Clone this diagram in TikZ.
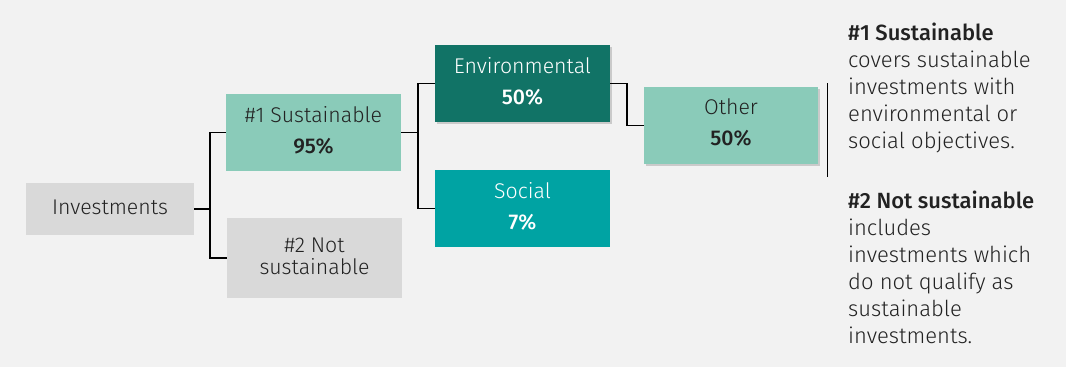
\documentclass[tikz,border=0pt]{standalone}
\usepackage{fontspec}
\setmainfont{Fira Sans Light}[BoldFont={Fira Sans Medium}]
\usetikzlibrary{shadows}
\definecolor{bg}{HTML}{F2F2F2}
\definecolor{boxgray}{HTML}{D9D9D9}
\definecolor{mint}{HTML}{8ACBB9}
\definecolor{darkteal}{HTML}{117366}
\definecolor{teal}{HTML}{00A3A3}
\definecolor{txt}{HTML}{222222}
\newcommand{\lowstrut}[1][6pt]{\rule[-#1]{0pt}{0pt}}
\tikzset{
  box/.style={rectangle, inner sep=0pt, minimum width=175pt, minimum height=77pt,
    align=center, text=txt, font=\fontsize{21.3}{22}\selectfont},
  shad/.style={drop shadow={opacity=0.35, shadow xshift=2pt, shadow yshift=-2pt}},
  conn/.style={draw=black, line width=1.6pt},
  sidetext/.style={anchor=base west, inner sep=0pt, align=left, text=txt,
    font=\fontsize{22}{27}\selectfont}
}
\begin{document}
\begin{tikzpicture}[x=1pt,y=-1pt]
\useasboundingbox (0,0) rectangle (1066,367);
\fill[bg] (0,0) rectangle (1066,367);

\node[box, fill=boxgray, minimum width=168pt, minimum height=52pt] (inv) at (110,209) {Investments\lowstrut[4pt]};
\node[box, fill=mint] (s1) at (313.5,132.5) {\#1 Sustainable\\[9pt]\textbf{95\%}\lowstrut};
\node[box, fill=boxgray, minimum height=80pt] (ns) at (314.5,258) {\#2 Not\\sustainable\lowstrut[4pt]};
\node[box, fill=darkteal, text=white, shad] (env) at (522.5,83.5) {Environmental\\[9pt]\textbf{50\%}\lowstrut};
\node[box, fill=teal, text=white] (soc) at (522.5,208.5) {Social\\[9pt]\textbf{7\%}\lowstrut};
\node[box, fill=mint, shad, minimum width=174pt] (oth) at (731,125.5) {Other\\[9pt]\textbf{50\%}\lowstrut};

\coordinate (j1) at (210,209);
\coordinate (j2) at (418,132.5);
\coordinate (j3) at (627,83.5);
\draw[conn] (inv.east) -- (j1) |- (s1.west);
\draw[conn] (j1) |- (ns.west);
\draw[conn] (s1.east) -- (j2) |- (env.west);
\draw[conn] (j2) |- (soc.west);
\draw[conn] (env.east) -- (j3) |- (oth.west);

\draw[line width=1pt] (827,83) -- (827,177);

\node[sidetext] (t1) at (848,148) {\textbf{\#1 Sustainable}\\covers sustainable\\investments with\\environmental or\\social objectives.};
\node[sidetext] (t2) at (848,343) {\textbf{\#2 Not sustainable}\\includes\\investments which\\do not qualify as\\sustainable\\investments.};
\end{tikzpicture}
\end{document}
